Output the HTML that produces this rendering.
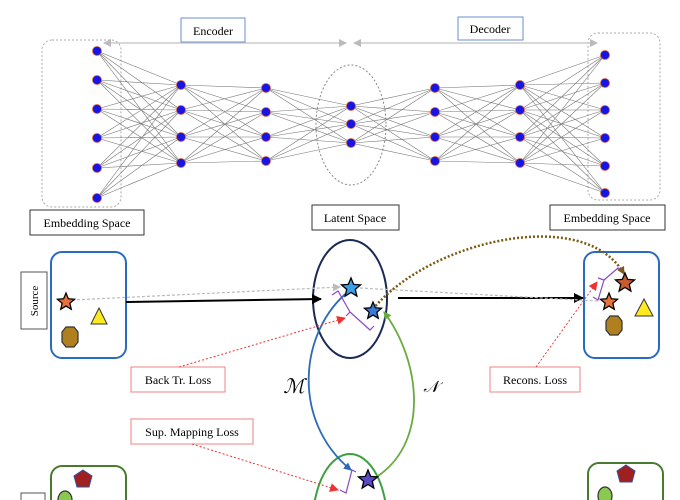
<!DOCTYPE html>
<html><head><meta charset="utf-8"><style>
html,body{margin:0;padding:0;background:#fff;width:680px;height:500px;overflow:hidden;}
svg{display:block;font-family:"Liberation Serif",serif;}
</style></head><body>
<svg width="680" height="500" viewBox="0 0 680 500" xmlns="http://www.w3.org/2000/svg">
<defs>
<polygon id="st" points="0,-1 0.265,-0.364 0.951,-0.309 0.428,0.139 0.588,0.809 0,0.45 -0.588,0.809 -0.428,0.139 -0.951,-0.309 -0.265,-0.364"/>
<marker id="ag" markerWidth="8" markerHeight="8" refX="7" refY="4" orient="auto" markerUnits="userSpaceOnUse"><path d="M0,0 L8,4 L0,8z" fill="#bbb"/></marker>
<marker id="ak" markerWidth="10" markerHeight="10" refX="9" refY="5" orient="auto" markerUnits="userSpaceOnUse"><path d="M0,0 L10,5 L0,10z" fill="#000"/></marker>
<marker id="ar" markerWidth="9" markerHeight="9" refX="8" refY="4.5" orient="auto" markerUnits="userSpaceOnUse"><path d="M0,0 L9,4.5 L0,9z" fill="#e33"/></marker>
<marker id="ab" markerWidth="8" markerHeight="8" refX="7" refY="4" orient="auto" markerUnits="userSpaceOnUse"><path d="M0,0 L8,4 L0,8z" fill="#2a6ab8"/></marker>
<marker id="agr" markerWidth="8" markerHeight="8" refX="7" refY="4" orient="auto" markerUnits="userSpaceOnUse"><path d="M0,0 L8,4 L0,8z" fill="#6aaa40"/></marker>
<marker id="abr" markerWidth="8" markerHeight="8" refX="7" refY="4" orient="auto" markerUnits="userSpaceOnUse"><path d="M0,0 L8,4 L0,8z" fill="#7a5a10"/></marker>
</defs>

<rect x="42" y="40" width="79" height="167" rx="10" fill="none" stroke="#aaa" stroke-dasharray="2,2"/>
<rect x="588" y="33" width="72" height="167" rx="10" fill="none" stroke="#aaa" stroke-dasharray="2,2"/>
<ellipse cx="351" cy="125" rx="35" ry="60" fill="none" stroke="#888" stroke-dasharray="2,2"/>
<line x1="104" y1="43" x2="346" y2="43" stroke="#ccc" stroke-width="1.5" marker-end="url(#ag)"/>
<line x1="346" y1="43" x2="104" y2="43" stroke="none" marker-end="url(#ag)"/>
<line x1="354" y1="43" x2="597" y2="43" stroke="#ccc" stroke-width="1.5" marker-end="url(#ag)"/>
<line x1="597" y1="43" x2="354" y2="43" stroke="none" marker-end="url(#ag)"/>
<rect x="181" y="18" width="64" height="24" fill="#fff" stroke="#6a8fd0"/>
<text x="213" y="35" font-size="12" text-anchor="middle">Encoder</text>
<rect x="458" y="17" width="65" height="23" fill="#fff" stroke="#6a8fd0"/>
<text x="490" y="33" font-size="12" text-anchor="middle">Decoder</text>

<g stroke="#777" stroke-width="0.6" fill="none">
<path d="M97 51L181 85M97 51L181 110M97 51L181 137M97 51L181 163M97 80L181 85M97 80L181 110M97 80L181 137M97 80L181 163M97 109L181 85M97 109L181 110M97 109L181 137M97 109L181 163M97 138L181 85M97 138L181 110M97 138L181 137M97 138L181 163M97 168L181 85M97 168L181 110M97 168L181 137M97 168L181 163M97 198L181 85M97 198L181 110M97 198L181 137M97 198L181 163"/>
<path d="M181 85L266 88M181 85L266 112M181 85L266 137M181 85L266 161M181 110L266 88M181 110L266 112M181 110L266 137M181 110L266 161M181 137L266 88M181 137L266 112M181 137L266 137M181 137L266 161M181 163L266 88M181 163L266 112M181 163L266 137M181 163L266 161"/>
<path d="M266 88L351 106M266 88L351 124M266 88L351 143M266 112L351 106M266 112L351 124M266 112L351 143M266 137L351 106M266 137L351 124M266 137L351 143M266 161L351 106M266 161L351 124M266 161L351 143"/>
<path d="M435 88L351 106M435 88L351 124M435 88L351 143M435 112L351 106M435 112L351 124M435 112L351 143M435 137L351 106M435 137L351 124M435 137L351 143M435 161L351 106M435 161L351 124M435 161L351 143"/>
<path d="M520 85L435 88M520 85L435 112M520 85L435 137M520 85L435 161M520 110L435 88M520 110L435 112M520 110L435 137M520 110L435 161M520 137L435 88M520 137L435 112M520 137L435 137M520 137L435 161M520 163L435 88M520 163L435 112M520 163L435 137M520 163L435 161"/>
<path d="M605 55L520 85M605 55L520 110M605 55L520 137M605 55L520 163M605 83L520 85M605 83L520 110M605 83L520 137M605 83L520 163M605 110L520 85M605 110L520 110M605 110L520 137M605 110L520 163M605 138L520 85M605 138L520 110M605 138L520 137M605 138L520 163M605 166L520 85M605 166L520 110M605 166L520 137M605 166L520 163M605 193L520 85M605 193L520 110M605 193L520 137M605 193L520 163"/>
</g>
<g fill="#1515e6" stroke="#d06040" stroke-width="0.8">
<circle cx="97" cy="51" r="4.5"/><circle cx="97" cy="80" r="4.5"/><circle cx="97" cy="109" r="4.5"/><circle cx="97" cy="138" r="4.5"/><circle cx="97" cy="168" r="4.5"/><circle cx="97" cy="198" r="4.5"/>
<circle cx="181" cy="85" r="4.5"/><circle cx="181" cy="110" r="4.5"/><circle cx="181" cy="137" r="4.5"/><circle cx="181" cy="163" r="4.5"/>
<circle cx="266" cy="88" r="4.5"/><circle cx="266" cy="112" r="4.5"/><circle cx="266" cy="137" r="4.5"/><circle cx="266" cy="161" r="4.5"/>
<circle cx="351" cy="106" r="4.5"/><circle cx="351" cy="124" r="4.5"/><circle cx="351" cy="143" r="4.5"/>
<circle cx="435" cy="88" r="4.5"/><circle cx="435" cy="112" r="4.5"/><circle cx="435" cy="137" r="4.5"/><circle cx="435" cy="161" r="4.5"/>
<circle cx="520" cy="85" r="4.5"/><circle cx="520" cy="110" r="4.5"/><circle cx="520" cy="137" r="4.5"/><circle cx="520" cy="163" r="4.5"/>
<circle cx="605" cy="55" r="4.5"/><circle cx="605" cy="83" r="4.5"/><circle cx="605" cy="110" r="4.5"/><circle cx="605" cy="138" r="4.5"/><circle cx="605" cy="166" r="4.5"/><circle cx="605" cy="193" r="4.5"/>
</g>

<rect x="30" y="210" width="114" height="25" fill="#fff" stroke="#333"/>
<text x="87" y="227" font-size="12" text-anchor="middle">Embedding Space</text>
<rect x="312" y="205" width="87" height="25" fill="#fff" stroke="#333"/>
<text x="355" y="222" font-size="12" text-anchor="middle">Latent Space</text>
<rect x="550" y="205" width="115" height="25" fill="#fff" stroke="#333"/>
<text x="607" y="222" font-size="12" text-anchor="middle">Embedding Space</text>

<rect x="51" y="252" width="75" height="106" rx="11" fill="#fff" stroke="#2a6ac0" stroke-width="2"/>
<rect x="584" y="252" width="75" height="106" rx="11" fill="#fff" stroke="#2a6ac0" stroke-width="2"/>
<rect x="21" y="272" width="26" height="57" fill="#fff" stroke="#555"/>
<text transform="translate(38,301) rotate(-90)" font-size="11" text-anchor="middle">Source</text>

<ellipse cx="350" cy="299" rx="37" ry="59" fill="none" stroke="#1a2a55" stroke-width="2"/>
<ellipse cx="350" cy="522" rx="37" ry="68" fill="none" stroke="#3aa040" stroke-width="2"/>
<rect x="51" y="466" width="75" height="60" rx="11" fill="#fff" stroke="#4a7a30" stroke-width="2"/>
<rect x="588" y="463" width="75" height="60" rx="11" fill="#fff" stroke="#4a7a30" stroke-width="2"/>
<rect x="21" y="493" width="24" height="20" fill="#fff" stroke="#555"/>

<line x1="126" y1="302" x2="321" y2="299" stroke="#000" stroke-width="2" marker-end="url(#ak)"/>
<line x1="398" y1="298" x2="583" y2="298" stroke="#000" stroke-width="2" marker-end="url(#ak)"/>
<line x1="72" y1="300" x2="340" y2="287" stroke="#bbb" stroke-width="1.2" stroke-dasharray="3,2" marker-end="url(#ag)"/>
<line x1="360" y1="288" x2="598" y2="301" stroke="#bbb" stroke-width="1.2" stroke-dasharray="3,2"/>
<path d="M373 309 C 430 240, 585 205, 624 274" fill="none" stroke="#7a5a10" stroke-width="2.5" stroke-dasharray="2,2" marker-end="url(#abr)"/>

<path d="M349 291 C 300 330, 290 420, 351 470" fill="none" stroke="#2a6ab8" stroke-width="1.8" marker-end="url(#ab)"/>
<path d="M378 476 C 430 440, 420 360, 384 312" fill="none" stroke="#6aaa40" stroke-width="1.8" marker-end="url(#agr)"/>

<g fill="none" stroke="#8a4ac0" stroke-width="1.2">
<path d="M332 295 L338 291 L350 312 L346 316 M350 312 L370 330 L374 326"/>
<path d="M593 297 L598 300 L604 280 L598 278 M604 280 L618 268 L622 270"/>
<path d="M340 490 L346 493 L352 470 L356 472"/>
</g>

<rect x="131" y="367" width="94" height="25" fill="#fff" stroke="#f08080"/>
<text x="178" y="384" font-size="12" text-anchor="middle">Back Tr. Loss</text>
<rect x="490" y="367" width="90" height="25" fill="#fff" stroke="#f08080"/>
<text x="535" y="384" font-size="12" text-anchor="middle">Recons. Loss</text>
<rect x="131" y="419" width="122" height="25" fill="#fff" stroke="#f08080"/>
<text x="192" y="436" font-size="12" text-anchor="middle">Sup. Mapping Loss</text>

<line x1="179" y1="367" x2="345" y2="318" stroke="#e33" stroke-dasharray="2,2" marker-end="url(#ar)"/>
<line x1="536" y1="367" x2="597" y2="282" stroke="#e33" stroke-dasharray="2,2" marker-end="url(#ar)"/>
<line x1="192" y1="444" x2="338" y2="490" stroke="#e33" stroke-dasharray="2,2" marker-end="url(#ar)"/>

<text x="294" y="393" font-size="20" font-style="italic" text-anchor="middle">ℳ</text>
<text x="431" y="392" font-size="16" font-style="italic" text-anchor="middle">𝒩</text>

<g stroke="#000">
<use href="#st" transform="translate(66,302) scale(9)" fill="#e8703a" style="stroke-width:0.14"/>
<use href="#st" transform="translate(351,288) scale(10)" fill="#3aa0e8" style="stroke-width:0.13"/>
<use href="#st" transform="translate(373,311) scale(9)" fill="#3a7ad8" style="stroke-width:0.14"/>
<use href="#st" transform="translate(625,283) scale(10)" fill="#c85a30" style="stroke-width:0.13"/>
<use href="#st" transform="translate(609,302) scale(9)" fill="#e8703a" style="stroke-width:0.14"/>
<use href="#st" transform="translate(368,480) scale(10)" fill="#5a4ac8" style="stroke-width:0.13"/>
</g>
<polygon points="99,308 107,324 91,324" fill="#ffea20" stroke="#333" stroke-width="1"/>
<polygon points="644,299 653,316 635,316" fill="#ffea20" stroke="#333" stroke-width="1"/>
<polygon points="66,327 74,327 78,332 78,342 74,347 66,347 62,342 62,332" fill="#b08020" stroke="#333" stroke-width="1.2"/>
<polygon points="610,316 618,316 622,321 622,330 618,335 610,335 606,330 606,321" fill="#b08020" stroke="#333" stroke-width="1.2"/>
<polygon points="83,470 92,476 89,487 77,487 74,476" fill="#a02020" stroke="#3050a0" stroke-width="1"/>
<polygon points="626,465 635,471 632,482 620,482 617,471" fill="#a02020" stroke="#3050a0" stroke-width="1"/>
<ellipse cx="65" cy="500" rx="7" ry="9" fill="#8ac850" stroke="#333" stroke-width="1.2"/>
<ellipse cx="605" cy="496" rx="7" ry="9" fill="#8ac850" stroke="#333" stroke-width="1.2"/>
</svg>
</body></html>
